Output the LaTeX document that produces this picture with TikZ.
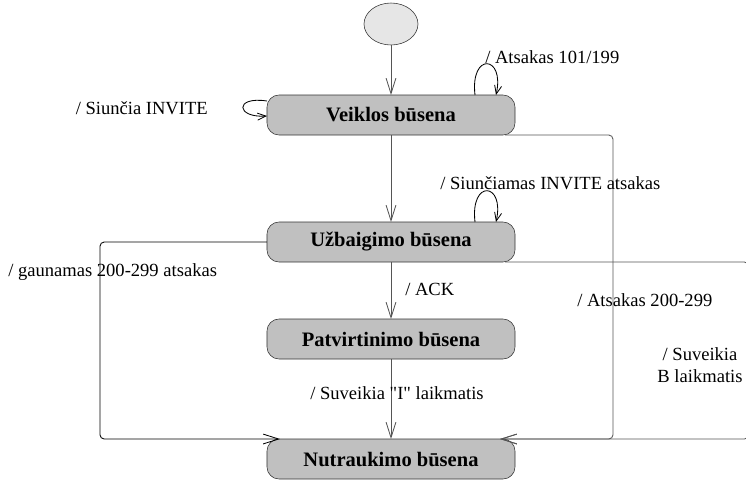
\documentclass[tikz,border=0pt]{standalone}
\usepackage{fontspec}
\setmainfont{Liberation Serif}
\usetikzlibrary{arrows.meta,positioning,shapes.geometric}
\definecolor{stategray}{RGB}{192,192,192}
\definecolor{startgray}{RGB}{230,230,230}
\definecolor{linegray}{RGB}{85,85,85}

\begin{document}
\begin{tikzpicture}[node distance=1cm,
  startnode/.style={draw=black!80,ellipse,fill=startgray,minimum width=1.35cm,minimum height=1.05cm,inner sep=0pt,outer sep=0pt},
  state/.style={draw=black!80,rounded corners=0.3cm,fill=stategray,minimum width=6.2cm,minimum height=1cm,inner sep=0pt,outer sep=0pt,font=\fontsize{14.6}{17}\selectfont\bfseries},
  lbl/.style={inner sep=0pt,font=\fontsize{13.2}{15.5}\selectfont},
  tr/.style={draw=linegray,line width=0.6pt,-{Straight Barb[length=11pt,width=7pt]}},
  loopline/.style={draw=black,line width=0.6pt,-{Straight Barb[length=6pt,width=5pt]}}]
  \useasboundingbox (-9.775,0.6) rectangle (8.875,-11.4);

  % states, top to bottom
  \node[startnode] (start) at (0,0) {};
  \node[state,below=1.25cm of start] (veiklos) {Veiklos būsena};
  \node[state,below=2.175cm of veiklos] (uzbaigimo) {Užbaigimo būsena};
  \node[state,below=1.425cm of uzbaigimo] (patvirtinimo) {Patvirtinimo būsena};
  \node[state,below=2cm of patvirtinimo] (nutraukimo) {Nutraukimo būsena};

  % main line
  \foreach \a/\b in {start/veiklos,veiklos/uzbaigimo,uzbaigimo/patvirtinimo,patvirtinimo/nutraukimo}{\draw[tr] (\a) -- (\b);}

  % self loops
  \draw[loopline] ([xshift=-1cm]veiklos.north east) .. controls +(-0.125,1.075) and +(0.225,1.0) .. ([xshift=-0.475cm]veiklos.north east);
  \draw[loopline] ([yshift=0.35cm]veiklos.west) .. controls +(-0.825,0.125) and +(-0.775,-0.05) .. ([yshift=-0.025cm]veiklos.west);
  \draw[loopline] ([xshift=-1cm]uzbaigimo.north east) .. controls +(-0.125,1.075) and +(0.225,1.0) .. ([xshift=-0.475cm]uzbaigimo.north east);

  % transitions into Nutraukimo
  \draw[tr,rounded corners=3pt] ([xshift=-0.25cm]veiklos.south east) -| ([xshift=2.45cm]nutraukimo.north east) -- ([xshift=-0.375cm]nutraukimo.north east);
  \draw[tr,rounded corners=3pt] ([xshift=-0.25cm]uzbaigimo.south east) -| ([xshift=5.84cm]nutraukimo.north east) -- ([xshift=-0.375cm]nutraukimo.north east);
  \draw[tr,draw=black,rounded corners=3pt] (uzbaigimo.west) -- ++(-4.175,0) |- ([xshift=0.325cm]nutraukimo.north west);

  % labels
  \node[lbl,anchor=west] (l1) at (2.35,-0.825) {/ Atsakas 101/199};
  \node[lbl,anchor=east] (l2) at (-4.575,-2.1) {/ Siunčia INVITE};
  \node[lbl,anchor=west] (l3) at (1.225,-3.975) {/ Siunčiamas INVITE atsakas};
  \node[lbl,anchor=west] (l4) at (-9.575,-6.2) {/ gaunamas 200-299 atsakas};
  \node[lbl,anchor=west] (l5) at (0.35,-6.625) {/ ACK};
  \node[lbl,anchor=west] (l6) at (4.65,-6.9) {/ Atsakas 200-299};
  \node[lbl,align=center] (l7) at (7.725,-8.525) {/ Suveikia\\B laikmatis};
  \node[lbl] (l8) at (0.15,-9.225) {/ Suveikia \textquotedbl I\textquotedbl{} laikmatis};
\end{tikzpicture}
\end{document}
